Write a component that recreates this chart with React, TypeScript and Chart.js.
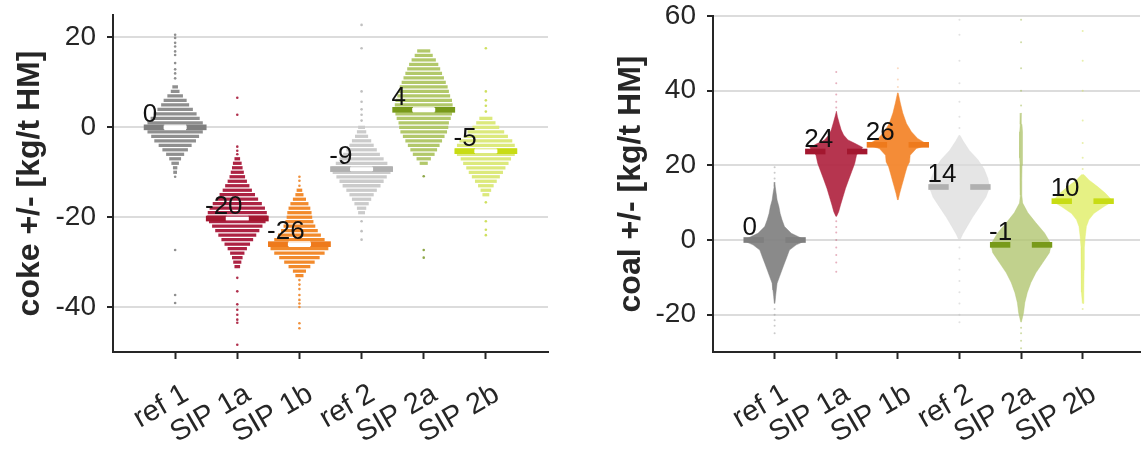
import React, { useEffect, useRef } from "react";
import { Chart, registerables } from "chart.js";

Chart.register(...registerables);

const FONT = '"Liberation Sans", Arial, Helvetica, sans-serif';

// ---------------- data ----------------
const categories = ["ref 1", "SIP 1a", "SIP 1b", "ref 2", "SIP 2a", "SIP 2b"];
const cokeTicks = [-40, -20, 0, 20];
const coalTicks = [-20, 0, 20, 40, 60];

const cokeMedians = [0, -20.3, -26, -9.3, 3.9, -5.3];
const coalMedians = [0, 23.7, 25.5, 14.2, -1.3, 10.4];

// coke: swarm rows [value, half-width in category units]
const cokeRef1Rows: [number, number][] = [[9, 0.04], [8, 0.065], [7, 0.12], [6, 0.18], [5, 0.22], [4, 0.28], [3, 0.34], [2, 0.39], [1, 0.44], [0, 0.48], [-1, 0.44], [-2, 0.38], [-3, 0.33], [-4, 0.26], [-5, 0.2], [-6, 0.14], [-7, 0.09], [-8, 0.055], [-9, 0.03], [-10, 0.025]];
const cokeSip1aRows: [number, number][] = [[-7, 0.04], [-8, 0.065], [-9, 0.08], [-10, 0.1], [-11, 0.12], [-12, 0.15], [-13, 0.19], [-14, 0.23], [-15, 0.28], [-16, 0.33], [-17, 0.39], [-18, 0.44], [-19, 0.47], [-20, 0.48], [-21, 0.45], [-22, 0.4], [-23, 0.35], [-24, 0.3], [-25, 0.25], [-26, 0.2], [-27, 0.15], [-28, 0.11], [-29, 0.08], [-30, 0.06], [-31, 0.04]];
const cokeSip1bRows: [number, number][] = [[-14, 0.04], [-15, 0.06], [-16, 0.1], [-17, 0.14], [-18, 0.17], [-19, 0.19], [-20, 0.2], [-21, 0.22], [-22, 0.25], [-23, 0.29], [-24, 0.34], [-25, 0.4], [-26, 0.48], [-27, 0.46], [-28, 0.4], [-29, 0.32], [-30, 0.24], [-31, 0.17], [-32, 0.1], [-33, 0.06]];
const cokeRef2Rows: [number, number][] = [[0, 0.05], [-1, 0.07], [-2, 0.1], [-3, 0.15], [-4, 0.19], [-5, 0.24], [-6, 0.29], [-7, 0.35], [-8, 0.41], [-9, 0.48], [-10, 0.46], [-11, 0.4], [-12, 0.35], [-13, 0.3], [-14, 0.24], [-15, 0.19], [-16, 0.15], [-17, 0.11], [-18, 0.07], [-19, 0.05]];
const cokeSip2aRows: [number, number][] = [[17, 0.1], [16, 0.14], [15, 0.19], [14, 0.23], [13, 0.26], [12, 0.29], [11, 0.32], [10, 0.35], [9, 0.38], [8, 0.4], [7, 0.42], [6, 0.45], [5, 0.46], [4, 0.48], [3, 0.45], [2, 0.43], [1, 0.4], [0, 0.39], [-1, 0.37], [-2, 0.33], [-3, 0.29], [-4, 0.25], [-5, 0.21], [-6, 0.17], [-7, 0.11], [-8, 0.06]];
const cokeSip2bRows: [number, number][] = [[2, 0.1], [1, 0.15], [0, 0.21], [-1, 0.29], [-2, 0.35], [-3, 0.42], [-4, 0.46], [-5, 0.49], [-6, 0.46], [-7, 0.4], [-8, 0.36], [-9, 0.31], [-10, 0.27], [-11, 0.22], [-12, 0.17], [-13, 0.12], [-14, 0.08], [-15, 0.05]];

const cokeRef1Singles = [20.6, 19.9, 18.8, 18, 16.9, 16.1, 14.3, 12.9, 12, 10.9, -11, -27.3, -37.3, -39.1];
const cokeSip1aSingles = [6.6, 2.8, -4.3, -5.2, -6, -33.5, -36.5, -39.4, -40.6, -41.7, -42.8, -43.5, -48.4];
const cokeSip1bSingles = [-11, -11.9, -13, -34, -35, -36, -37.3, -38.4, -39.2, -40, -43.6, -44.7];
const cokeRef2Singles = [22.8, 17.6, 8, 5.7, 4, 2.8, 1.5, -20.9, -23.1, -25];
const cokeSip2aSingles = [-10.9, -27.3, -29];
const cokeSip2bSingles = [17.6, 8, 6, 4.8, 3.5, -16.7, -20.9, -22.8, -24];

// coal: violin outline [value, half-width], bottom to top
const coalRef1Shape: [number, number][] = [[-17, 0.005], [-15.2, 0.015], [-13.4, 0.027], [-11.6, 0.04], [-9.8, 0.08], [-8, 0.12], [-6.2, 0.16], [-4.5, 0.2], [-2.7, 0.24], [-1.3, 0.35], [-0.5, 0.46], [0, 0.49], [0.6, 0.42], [1.8, 0.27], [3.6, 0.16], [5.4, 0.12], [7.1, 0.09], [8.9, 0.07], [10.7, 0.04], [12.5, 0.025], [14.3, 0.01], [15.5, 0.003]];
const coalSip1aShape: [number, number][] = [[6.3, 0.005], [7.6, 0.04], [9.4, 0.07], [11.6, 0.11], [13.8, 0.15], [16.1, 0.2], [18.3, 0.25], [20.5, 0.3], [22.8, 0.33], [23.7, 0.38], [24.8, 0.43], [25.9, 0.3], [26.8, 0.19], [28.1, 0.12], [29.5, 0.08], [31.2, 0.05], [33, 0.02], [34.5, 0.003]];
const coalSip1bShape: [number, number][] = [[10.7, 0.005], [12.5, 0.03], [14.3, 0.06], [16.1, 0.09], [17.9, 0.12], [19.6, 0.15], [20.9, 0.19], [22.7, 0.2], [24.5, 0.3], [25.5, 0.5], [26.2, 0.42], [27.2, 0.32], [29, 0.22], [31.2, 0.14], [34, 0.08], [36.7, 0.04], [39.4, 0.005]];
const coalRef2Shape: [number, number][] = [[0, 0.01], [1.5, 0.05], [3.5, 0.12], [6, 0.21], [9, 0.33], [11.5, 0.43], [14.2, 0.49], [16.5, 0.46], [19, 0.4], [21.5, 0.3], [24, 0.16], [26.5, 0.06], [28, 0.01]];
const coalSip2aShape: [number, number][] = [[-22, 0.005], [-19.5, 0.04], [-16.8, 0.06], [-14.1, 0.1], [-11.4, 0.16], [-8.8, 0.24], [-6.1, 0.35], [-3.4, 0.46], [-1.3, 0.49], [-0.9, 0.48], [1.9, 0.38], [4.6, 0.24], [7.3, 0.11], [9.9, 0.025], [12, 0.012], [16, 0.012], [20, 0.016], [22, 0.022], [26, 0.026], [29, 0.022], [31, 0.014], [34, 0.004]];
const coalSip2bShape: [number, number][] = [[-17, 0.005], [-14, 0.018], [-8, 0.022], [-2, 0.027], [1, 0.042], [3.6, 0.06], [5.4, 0.1], [7.1, 0.18], [8.9, 0.34], [10.4, 0.49], [12.5, 0.37], [14.3, 0.24], [16.1, 0.1], [17.5, 0.02]];

const coalRef1Singles = [16.5, 18, 19.5, -18.5, -20, -21.5, -23, -25];
const coalSip1aSingles = [45, 42, 39, 37, 35.5, 5, 3.5, 2, 0, -2, -4, -6, -8.5];
const coalSip1bSingles = [41, 43, 46];
const coalRef2Singles = [30, 33, 37, 42, 48, 55, 59, -2, -5, -8, -11, -14, -17, -20, -22];
const coalSip2aSingles = [36, 40, 46, 53, 59, -23.5, -25, -27, -29];
const coalSip2bSingles = [19, 22, 26, 32, 40, 48, 56, -18.5];

const cokeRows = [cokeRef1Rows, cokeSip1aRows, cokeSip1bRows, cokeRef2Rows, cokeSip2aRows, cokeSip2bRows];
const cokeSingles = [cokeRef1Singles, cokeSip1aSingles, cokeSip1bSingles, cokeRef2Singles, cokeSip2aSingles, cokeSip2bSingles];
const coalShapes = [coalRef1Shape, coalSip1aShape, coalSip1bShape, coalRef2Shape, coalSip2aShape, coalSip2bShape];
const coalSingles = [coalRef1Singles, coalSip1aSingles, coalSip1bSingles, coalRef2Singles, coalSip2aSingles, coalSip2bSingles];

// ---------------- styles ----------------
const rowColors = ["#8f8f8f", "#ad2343", "#f28a2c", "#cbcbcb", "#b2c86a", "#dce97c"];
const singleColors = ["#8f8f8f", "#b0304d", "#f0913c", "#c0c0c0", "#8fa84a", "#cfe060"];
const medianColors = ["#7f7f7f", "#a3172f", "#ee7a1c", "#b0b0b0", "#789a1a", "#c8dc14"];
const coalFillColors = ["rgba(128,128,128,0.92)", "rgba(176,36,64,0.92)", "rgba(243,134,44,0.95)", "rgba(218,218,218,0.7)", "rgba(178,198,112,0.8)", "rgba(226,238,110,0.85)"];
const coalSingleColors = ["rgba(150,150,150,0.5)", "rgba(200,80,110,0.45)", "rgba(240,150,80,0.35)", "rgba(190,190,190,0.45)", "rgba(160,185,80,0.5)", "rgba(210,225,90,0.5)"];
const AXIS = "#262626";

function medianLabelPlugin(medians: number[]) {
  return {
    id: "medianLabels",
    afterDatasetsDraw(chart: any) {
      const { ctx } = chart;
      const x = chart.scales.x;
      const y = chart.scales.y;
      ctx.save();
      ctx.font = `26px ${FONT}`;
      ctx.fillStyle = "#111";
      ctx.textAlign = "left";
      ctx.textBaseline = "alphabetic";
      medians.forEach((m, i) => {
        ctx.fillText(String(Math.round(m)), x.getPixelForValue(i + 1 - 0.52), y.getPixelForValue(m) - 5);
      });
      ctx.restore();
    },
  };
}

function makeScales(yMin: number, yMax: number, yTicks: number[], xMax: number, title: string, yWidth: number) {
  return {
    x: {
      type: "linear",
      min: 0,
      max: xMax,
      offset: false,
      afterBuildTicks: (s: any) => {
        s.ticks = categories.map((_, i) => ({ value: i + 1 }));
      },
      afterFit: (s: any) => {
        s.height = 98;
        s.paddingLeft = 0;
        s.paddingRight = 0;
      },
      grid: { display: true, drawOnChartArea: false, offset: false, tickLength: 7, tickColor: AXIS, tickWidth: 2 },
      border: { display: true, color: AXIS, width: 2 },
      ticks: {
        autoSkip: false,
        minRotation: 30,
        maxRotation: 30,
        labelOffset: 11,
        padding: 18,
        color: AXIS,
        font: { family: FONT, size: 29 },
        callback: (v: any) => categories[Math.round(Number(v)) - 1] ?? "",
      },
    },
    y: {
      type: "linear",
      min: yMin,
      max: yMax,
      offset: false,
      afterBuildTicks: (s: any) => {
        s.ticks = yTicks.map((v) => ({ value: v }));
      },
      afterFit: (s: any) => {
        s.width = yWidth;
        s.paddingTop = 0;
        s.paddingBottom = 0;
      },
      grid: { color: "#dcdcdc", lineWidth: 2, offset: false, tickLength: 6, tickColor: AXIS, tickWidth: 2 },
      border: { display: true, color: AXIS, width: 2 },
      ticks: { padding: 11, color: AXIS, font: { family: FONT, size: 28 } },
      title: {
        display: true,
        text: title,
        color: AXIS,
        font: { family: FONT, size: 32, weight: "bold" },
        padding: { top: 4, bottom: 4 },
      },
    },
  };
}

function medianBars(medians: number[], thickness: number, withGap: boolean) {
  const data: any[] = [];
  const colors: string[] = [];
  medians.forEach((m, i) => {
    const c = i + 1;
    data.push({ x: [c - 0.5, c - 0.18], y: m }, { x: [c + 0.18, c + 0.5], y: m });
    colors.push(medianColors[i], medianColors[i]);
  });
  const sets: any[] = [
    {
      type: "bar",
      indexAxis: "y",
      data,
      backgroundColor: colors,
      borderWidth: 0,
      barThickness: thickness,
      grouped: false,
      order: 1,
    },
  ];
  if (withGap) {
    sets.push({
      type: "bar",
      indexAxis: "y",
      data: medians.map((m, i) => ({ x: [i + 1 - 0.18, i + 1 + 0.18], y: m })),
      backgroundColor: "#ffffff",
      borderWidth: 0,
      barThickness: 3,
      grouped: false,
      order: 0,
    });
  }
  return sets;
}

function cokeConfig(): any {
  const datasets: any[] = [...medianBars(cokeMedians, 5, true)];
  cokeRows.forEach((rows, i) => {
    const c = i + 1;
    datasets.push({
      type: "bar",
      indexAxis: "y",
      data: rows.map(([v, w]) => ({ x: [c - w, c + w], y: v })),
      backgroundColor: rowColors[i],
      borderWidth: 0,
      barThickness: 2.6,
      grouped: false,
      order: 3,
    });
  });
  cokeSingles.forEach((vals, i) => {
    datasets.push({
      type: "scatter",
      data: vals.map((v) => ({ x: i + 1, y: v })),
      pointRadius: 1.3,
      pointBorderWidth: 0,
      pointBackgroundColor: singleColors[i],
      order: 2,
    });
  });
  return {
    type: "scatter",
    data: { datasets },
    options: {
      responsive: false,
      animation: false,
      devicePixelRatio: 1,
      events: [],
      layout: { padding: { left: 7, top: 15, right: 12, bottom: 0 } },
      plugins: { legend: { display: false }, tooltip: { enabled: false } },
      scales: makeScales(-50, 25, cokeTicks, 7, "coke +/- [kg/t HM]", 106),
    },
    plugins: [medianLabelPlugin(cokeMedians)],
  };
}

function coalConfig(): any {
  const datasets: any[] = [...medianBars(coalMedians, 5, false)];
  coalShapes.forEach((shape, i) => {
    const c = i + 1;
    const right = shape.map(([v, w]) => ({ x: c + w, y: v }));
    const left = shape.slice().reverse().map(([v, w]) => ({ x: c - w, y: v }));
    datasets.push({
      type: "scatter",
      showLine: true,
      data: [...right, ...left],
      fill: "shape",
      backgroundColor: coalFillColors[i],
      borderColor: coalFillColors[i],
      borderWidth: 0.5,
      pointRadius: 0,
      order: 3,
    });
  });
  coalSingles.forEach((vals, i) => {
    datasets.push({
      type: "scatter",
      data: vals.map((v) => ({ x: i + 1, y: v })),
      pointRadius: 1,
      pointBorderWidth: 0,
      pointBackgroundColor: coalSingleColors[i],
      order: 4,
    });
  });
  return {
    type: "scatter",
    data: { datasets },
    options: {
      responsive: false,
      animation: false,
      devicePixelRatio: 1,
      events: [],
      layout: { padding: { left: 48, top: 16, right: 0, bottom: 0 } },
      plugins: { legend: { display: false }, tooltip: { enabled: false } },
      scales: makeScales(-30, 60, coalTicks, 6.93, "coal +/- [kg/t HM]", 105),
    },
    plugins: [medianLabelPlugin(coalMedians)],
  };
}

export default function App() {
  const leftRef = useRef<HTMLCanvasElement>(null);
  const rightRef = useRef<HTMLCanvasElement>(null);

  useEffect(() => {
    const c1 = new Chart(leftRef.current as HTMLCanvasElement, cokeConfig());
    const c2 = new Chart(rightRef.current as HTMLCanvasElement, coalConfig());
    return () => {
      c1.destroy();
      c2.destroy();
    };
  }, []);

  return (
    <div style={{ position: "absolute", left: 0, top: 0, width: 1144, height: 450, background: "#fff", overflow: "hidden" }}>
      <canvas ref={leftRef} width={560} height={450} style={{ position: "absolute", left: 0, top: 0, width: 560, height: 450 }} />
      <canvas ref={rightRef} width={584} height={450} style={{ position: "absolute", left: 560, top: 0, width: 584, height: 450 }} />
    </div>
  );
}
